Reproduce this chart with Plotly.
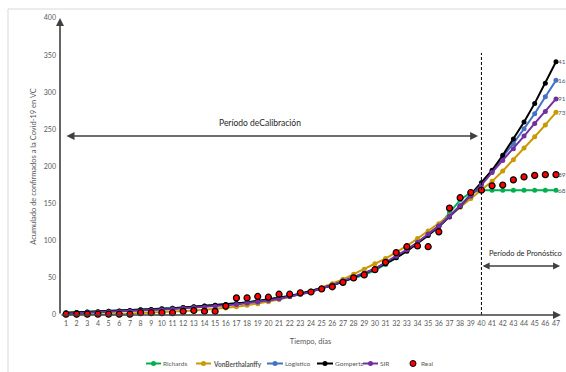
import plotly.graph_objects as go

days = list(range(1, 48))
tick_labels = [str(d) for d in days]

richards = [3, 3.5, 4, 4.5, 5, 5.5, 6, 7, 7.5, 8.5, 9, 10, 11, 12, 13, 14, 15.5, 17, 19, 21,
            23, 25.5, 28.5, 32, 36, 40, 45, 49, 54, 60, 68, 77, 87, 97, 108, 120, 138, 155, 165, 168,
            168, 168, 168, 168, 168, 168, 168]
vonb = [0, 0, 0.5, 1, 1, 1.5, 2, 2.5, 3, 3.5, 4, 5, 6, 7, 8, 9.5, 11, 13, 15, 18,
        21, 24.5, 28, 32, 37, 42, 48, 55, 61.5, 69, 76, 84, 93, 103, 113, 123, 134, 145, 157, 168,
        180, 194, 209, 225, 240, 256, 273]
logistico = [2, 2.5, 3, 3.5, 4, 4.5, 5, 6, 6.5, 7.5, 8.5, 9.5, 10.5, 11.5, 12.5, 13.5, 15, 16.5, 18, 20,
             22.5, 25, 28, 31.5, 35.5, 40, 45, 50.5, 56, 62, 70, 78, 87, 97, 108, 120, 133, 147, 162, 178,
             194, 213, 231, 251, 271, 294, 316]
gompertz = [3, 3.5, 4, 4.5, 5, 5.5, 6, 7, 7.5, 8.5, 9, 10, 11, 12, 13, 14, 15.5, 17, 19, 21,
            23, 25.5, 28.5, 32, 36, 40, 45, 50, 56, 62, 69, 77, 86, 96, 107, 119, 132, 146, 162, 178,
            195, 215, 237, 260, 285, 312, 341]
sir = [2, 2.5, 3, 3.5, 4, 4.5, 5, 5.5, 6, 7, 8, 9, 10, 10.5, 11.5, 12.5, 14, 16, 17.5, 20,
       22, 25, 28, 31, 36, 40, 46, 51, 56, 62, 71, 79, 88, 98, 109, 120, 133, 147, 160, 175,
       192, 208, 224, 241, 258, 274, 291]
real = [1, 1, 1, 1, 1, 1, 1, 3, 3, 3, 3, 5, 6, 5, 5, 12, 23, 23, 25, 24,
        28, 28, 30, 31, 35, 38, 44, 50, 54, 61, 71, 84, 92, 93, 92, 112, 144, 158, 165, 168,
        174, 175, 182, 186, 188, 189, 189]

end_labels = ["68", "73", "16", "41", "91", "89"]

FONT = "Lato"
GRAY = "#595959"

W, H = 566, 372
# plot-area geometry in screen pixels (body margin is removed below)
SL, SR, ST, SB = 60, 561, 18, 315
L, R, T, B = SL, SR, ST, SB


def px_x(p):
    return (p - SL) / (SR - SL)


def px_y(p):
    return (SB - p) / (SB - ST)


fig = go.Figure()
series = [
    ("Richards", richards, "#00B050"),
    ("<b>VonBerthalanffy</b>", vonb, "#C99A06"),
    ("Logistico", logistico, "#4472C4"),
    ("Gompertz", gompertz, "#000000"),
    ("SIR", sir, "#7030A0"),
]
for name, vals, col in series:
    fig.add_trace(go.Scatter(x=days, y=vals, mode="lines+markers", name=name,
                             line=dict(color=col, width=2),
                             marker=dict(color=col, size=5, symbol="circle"),
                             cliponaxis=False, showlegend=False))
fig.add_trace(go.Scatter(x=days, y=real, mode="markers", name="Real",
                         marker=dict(color="#FF0000", size=6, line=dict(color="#000000", width=1.2)),
                         cliponaxis=False, showlegend=False))

# end labels (cut at the right edge, as in the reference)
last_vals = [richards[-1], vonb[-1], logistico[-1], gompertz[-1], sir[-1], real[-1]]
for lbl, v in zip(end_labels, last_vals):
    fig.add_annotation(x=47, xref="x", y=v, yref="y", text=lbl, showarrow=False,
                       xanchor="left", xshift=1.5, borderpad=0,
                       font=dict(family=FONT, size=6.5, color=GRAY))

XMIN, XMAX = 0.437, 47.47
ARROW = "#404040"
# axis arrows
fig.add_annotation(x=XMIN, y=400, ax=XMIN, ay=0, xref="x", yref="y", axref="x", ayref="y",
                   showarrow=True, arrowhead=2, arrowsize=1, arrowwidth=1.6, arrowcolor=ARROW, text="")
fig.add_annotation(x=XMAX, y=0, ax=XMIN, ay=0, xref="x", yref="y", axref="x", ayref="y",
                   showarrow=True, arrowhead=2, arrowsize=1, arrowwidth=1.6, arrowcolor=ARROW, text="")
# period arrows
fig.add_annotation(x=39.69, y=241, ax=0.906, ay=241, xref="x", yref="y", axref="x", ayref="y",
                   showarrow=True, arrowhead=2, startarrowhead=2, arrowside="end+start",
                   arrowsize=1, arrowwidth=1.6, arrowcolor=ARROW, text="")
fig.add_annotation(x=47.38, y=66, ax=39.97, ay=66, xref="x", yref="y", axref="x", ayref="y",
                   showarrow=True, arrowhead=2, startarrowhead=2, arrowside="end+start",
                   arrowsize=1, arrowwidth=1.4, arrowcolor=ARROW, text="")
fig.add_annotation(x=19.2, y=258.6, text="Período deCalibración", showarrow=False,
                   font=dict(family=FONT, size=8.5, color="#262626"))
fig.add_annotation(x=44.1, y=83.5, text="Período de Pronóstico", showarrow=False,
                   font=dict(family=FONT, size=7.5, color="#262626"))

# vertical dashed separator
fig.add_shape(type="line", x0=40, x1=40, y0=0, y1=353, xref="x", yref="y",
              line=dict(color="#000000", width=1, dash="3px,2px"))

# chart border (only top/left visible)
fig.add_shape(type="rect", xref="paper", yref="paper", x0=px_x(8), x1=1.3, y0=-0.4, y1=px_y(9),
              line=dict(color="#D9D9D9", width=1), layer="below")

# custom legend (compact, as in the reference)
LEG_Y = px_y(363.5)
legend_items = [
    ("Richards", "#00B050", 146, 161),
    ("<b>VonBerthalanffy</b>", "#C99A06", 196, 211),
    ("Logistico", "#4472C4", 267, 283),
    ("Gompertz", "#000000", 317, 333),
    ("SIR", "#7030A0", 363, 378),
]
for text, col, x0, x1 in legend_items:
    fig.add_shape(type="line", xref="paper", yref="paper", x0=px_x(x0), x1=px_x(x1), y0=LEG_Y, y1=LEG_Y,
                  line=dict(color=col, width=2))
    xc = px_x((x0 + x1) / 2)
    fig.add_shape(type="circle", xref="paper", yref="paper", xsizemode="pixel", ysizemode="pixel",
                  xanchor=xc, yanchor=LEG_Y, x0=-2.5, x1=2.5, y0=-2.5, y1=2.5,
                  fillcolor=col, line=dict(color=col, width=0))
    fig.add_annotation(x=px_x(x1 + 0.5), y=LEG_Y, xref="paper", yref="paper", text=text, showarrow=False,
                       xanchor="left", yanchor="middle", borderpad=0,
                       font=dict(family=FONT, size=6.5, color=GRAY))
# Real marker
fig.add_shape(type="circle", xref="paper", yref="paper", xsizemode="pixel", ysizemode="pixel",
              xanchor=px_x(413), yanchor=LEG_Y, x0=-3, x1=3, y0=-3, y1=3,
              fillcolor="#FF0000", line=dict(color="#000000", width=1))
fig.add_annotation(x=px_x(420), y=LEG_Y, xref="paper", yref="paper", text="Real", showarrow=False,
                   xanchor="left", yanchor="middle", borderpad=0,
                   font=dict(family=FONT, size=6.5, color=GRAY))

fig.update_layout(
    width=W, height=H,
    margin=dict(l=L, r=W - R, t=T, b=H - B, autoexpand=False),
    paper_bgcolor="white", plot_bgcolor="white",
    font=dict(family=FONT, size=7, color=GRAY),
    showlegend=False,
    xaxis=dict(range=[XMIN, XMAX], tickmode="array", tickvals=days, ticktext=tick_labels,
               showgrid=False, zeroline=False, showline=False, ticks="", automargin=False,
               ticklabelstandoff=3,
               tickfont=dict(family=FONT, size=7, color=GRAY),
               title=dict(text="Tiempo, días", font=dict(family=FONT, size=7.5, color=GRAY), standoff=12)),
    yaxis=dict(range=[0, 400], tickvals=[0, 50, 100, 150, 200, 250, 300, 350, 400],
               showgrid=False, zeroline=False, showline=False, ticks="", automargin=False,
               ticklabelstandoff=3,
               tickfont=dict(family=FONT, size=7, color=GRAY),
               title=dict(text="Acumulado de confirmados a la Covid-19 en VC",
                          font=dict(family=FONT, size=7.5, color=GRAY), standoff=6)),
)

fig.write_html("out.html", config={"displayModeBar": False},
               post_script="document.body.style.margin='0';document.body.style.overflow='hidden';")
